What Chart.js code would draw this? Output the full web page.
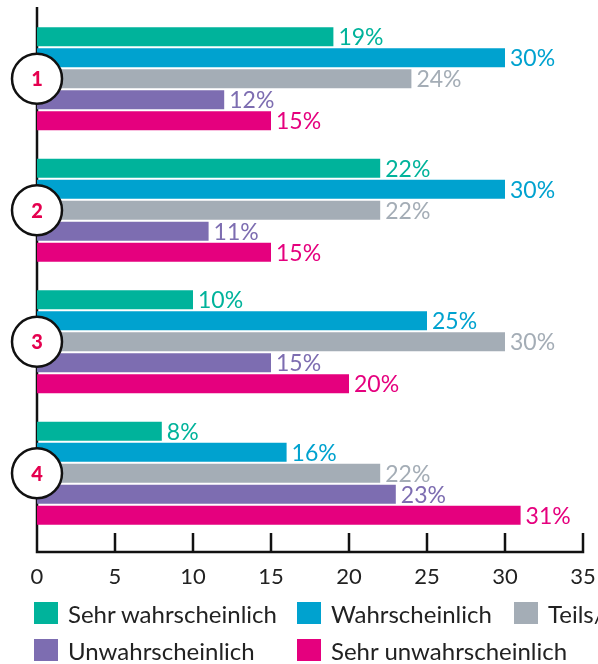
<!DOCTYPE html>
<html>
<head>
<meta charset="utf-8">
<script src="https://cdn.jsdelivr.net/npm/chart.js@4.4.1/dist/chart.umd.min.js"></script>
<style>
  html, body { margin: 0; padding: 0; background: #fff; overflow: hidden; }
  #wrap { position: relative; width: 598px; height: 664px; overflow: hidden; }
  #chartBox { position: absolute; left: 0; top: 0; width: 598px; height: 600px; }
  #legend {
    position: absolute; left: 34px; top: 601px;
    display: grid; grid-template-columns: 263px 217px 200px; row-gap: 13px;
    font-family: Lato, "Noto Sans", sans-serif; font-size: 24px; color: #222;
    white-space: nowrap;
  }
  .item { display: flex; align-items: center; height: 24px; }
  .sw { width: 24px; height: 22px; margin-right: 10px; flex: none; }
</style>
</head>
<body>
<div id="wrap">
  <div id="chartBox"><canvas id="chart"></canvas></div>
  <div id="legend"></div>
</div>
<script>
// Gruppen (Kreise 1-4)
const groups = ['1', '2', '3', '4'];

const seriesNames = ['Sehr wahrscheinlich', 'Wahrscheinlich', 'Teils/teils', 'Unwahrscheinlich', 'Sehr unwahrscheinlich'];
const seriesColors = ['#00b39b', '#00a2cf', '#a4adb6', '#7d6db1', '#e5007e'];

const sehrWahrscheinlich   = [19, 22, 10, 8];
const wahrscheinlich       = [30, 30, 25, 16];
const teilsTeils           = [24, 22, 30, 22];
const unwahrscheinlich     = [12, 11, 15, 23];
const sehrUnwahrscheinlich = [15, 15, 20, 31];

const xTicks = [0, 5, 10, 15, 20, 25, 30, 35];

const seriesValues = [sehrWahrscheinlich, wahrscheinlich, teilsTeils, unwahrscheinlich, sehrUnwahrscheinlich];

const FONT = 'Lato, "Noto Sans", sans-serif';

// Achsen, Kreise und Prozentwerte selbst zeichnen
const decoPlugin = {
  id: 'deco',
  beforeDatasetsDraw(chart) {
    const { ctx, scales: { x } } = chart;
    const x0 = x.getPixelForValue(0);
    const axisY = 552;
    ctx.save();
    ctx.strokeStyle = '#111';
    ctx.lineWidth = 2.5;
    ctx.beginPath();
    ctx.moveTo(x0, 7);
    ctx.lineTo(x0, axisY + 1.25);
    ctx.moveTo(x0 - 1.25, axisY);
    ctx.lineTo(x.getPixelForValue(xTicks[xTicks.length - 1]) + 1.25, axisY);
    xTicks.forEach(v => {
      if (v === 0) return;
      const px = x.getPixelForValue(v);
      ctx.moveTo(px, axisY - 19);
      ctx.lineTo(px, axisY);
    });
    ctx.stroke();
    // Achsenbeschriftung
    ctx.fillStyle = '#222';
    ctx.font = '22px ' + FONT;
    ctx.textAlign = 'center';
    ctx.textBaseline = 'middle';
    xTicks.forEach(v => ctx.fillText(String(v), x.getPixelForValue(v), 577));
    ctx.restore();
  },
  afterDatasetsDraw(chart) {
    const { ctx, scales: { x, y } } = chart;
    ctx.save();
    // Prozentwerte
    ctx.font = '23px ' + FONT;
    ctx.textBaseline = 'middle';
    ctx.textAlign = 'left';
    chart.data.datasets.forEach((ds, di) => {
      const meta = chart.getDatasetMeta(di);
      meta.data.forEach((bar, i) => {
        ctx.fillStyle = ds.backgroundColor;
        ctx.fillText(ds.data[i] + '%', bar.x + 5, bar.y + 1);
      });
    });
    // Nummernkreise
    const x0 = x.getPixelForValue(0);
    groups.forEach((g, i) => {
      const cy = y.getPixelForValue(i);
      ctx.beginPath();
      ctx.arc(x0, cy, 25, 0, Math.PI * 2);
      ctx.fillStyle = '#fff';
      ctx.fill();
      ctx.lineWidth = 2.5;
      ctx.strokeStyle = '#111';
      ctx.stroke();
      ctx.fillStyle = '#e5004f';
      ctx.font = '900 20px ' + FONT;
      ctx.textAlign = 'center';
      ctx.fillText(g, x0, cy + 1);
      ctx.textAlign = 'left';
    });
    ctx.restore();
  }
};

new Chart(document.getElementById('chart'), {
  type: 'bar',
  data: {
    labels: groups,
    datasets: seriesNames.map((name, i) => ({
      label: name,
      data: seriesValues[i],
      backgroundColor: seriesColors[i],
      borderWidth: 0,
      categoryPercentage: 0.8,
      barPercentage: 0.9
    }))
  },
  options: {
    indexAxis: 'y',
    responsive: true,
    maintainAspectRatio: false,
    animation: false,
    layout: { padding: { left: 37, right: 15, top: 13, bottom: 61 } },
    plugins: { legend: { display: false }, tooltip: { enabled: false } },
    scales: {
      y: { display: false },
      x: { display: false, min: 0, max: 35 }
    }
  },
  plugins: [decoPlugin]
});

// Legende als HTML
const legend = document.getElementById('legend');
seriesNames.forEach((name, i) => {
  const item = document.createElement('div');
  item.className = 'item';
  item.innerHTML = `<span class="sw" style="background:${seriesColors[i]}"></span><span>${name}</span>`;
  legend.appendChild(item);
});
</script>
</body>
</html>
